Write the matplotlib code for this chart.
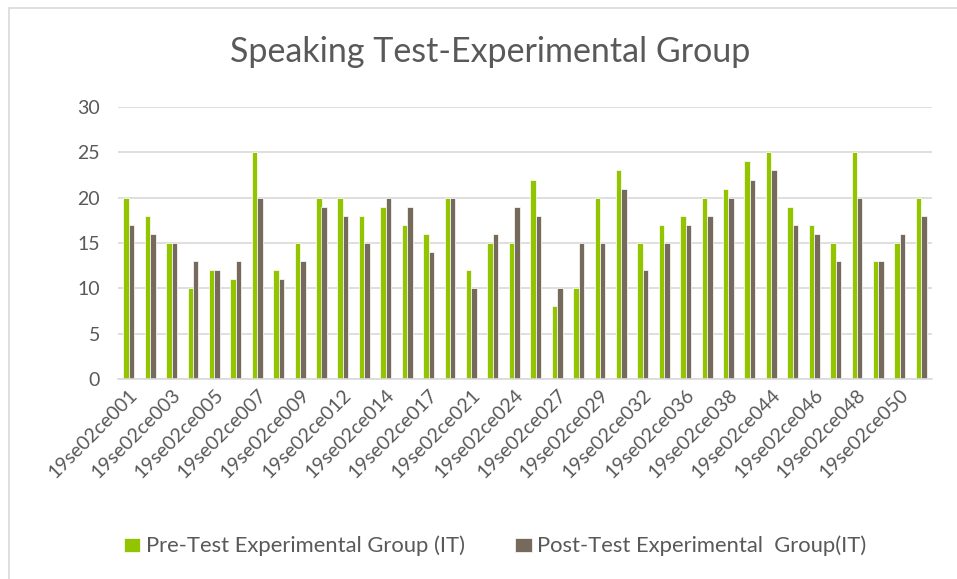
import numpy as np
import matplotlib.pyplot as plt
from matplotlib.patches import Rectangle

plt.rcParams['font.family'] = ['Lato', 'DejaVu Sans']

# student ids (only every other one is printed on the axis)
students = ['19se02ce001', '19se02ce002', '19se02ce003', '19se02ce004', '19se02ce005',
            '19se02ce006', '19se02ce007', '19se02ce008', '19se02ce009', '19se02ce010',
            '19se02ce012', '19se02ce013', '19se02ce014', '19se02ce015', '19se02ce017',
            '19se02ce018', '19se02ce021', '19se02ce022', '19se02ce024', '19se02ce025',
            '19se02ce027', '19se02ce028', '19se02ce029', '19se02ce030', '19se02ce032',
            '19se02ce033', '19se02ce036', '19se02ce037', '19se02ce038', '19se02ce039',
            '19se02ce044', '19se02ce045', '19se02ce046', '19se02ce047', '19se02ce048',
            '19se02ce049', '19se02ce050', '19se02ce051']

pre_test = [20, 18, 15, 10, 12, 11, 25, 12, 15, 20, 20, 18, 19, 17, 16, 20, 12, 15, 15,
            22, 8, 10, 20, 23, 15, 17, 18, 20, 21, 24, 25, 19, 17, 15, 25, 13, 15, 20]
post_test = [17, 16, 15, 13, 12, 13, 20, 11, 13, 19, 18, 15, 20, 19, 14, 20, 10, 16, 19,
             18, 10, 15, 15, 21, 12, 15, 17, 18, 20, 22, 23, 17, 16, 13, 20, 13, 16, 18]

green = '#92C400'
grey = '#756A5B'
text_col = '#595959'

fig = plt.figure(figsize=(9.57, 5.79), dpi=100)
ax = fig.add_axes([118 / 957, 1 - 379 / 579, (932 - 118) / 957, (379 - 107) / 579])

x = np.arange(len(students))
w = 0.255
ax.bar(x - w / 2, pre_test, w, color=green, edgecolor='white', linewidth=0.5,
       label='Pre-Test Experimental Group (IT)')
ax.bar(x + w / 2, post_test, w, color=grey, edgecolor='white', linewidth=0.5,
       label='Post-Test Experimental  Group(IT)')

ax.set_xlim(-0.5, len(students) - 0.5)
ax.set_ylim(0, 30)
ax.set_yticks(range(0, 31, 5))
ax.yaxis.grid(True, color='#D9D9D9', linewidth=1.2)
ax.set_axisbelow(True)
for s in ['top', 'right', 'left']:
    ax.spines[s].set_visible(False)
ax.spines['bottom'].set_color('#D9D9D9')
ax.spines['bottom'].set_linewidth(1.2)
ax.tick_params(axis='both', length=0, colors=text_col, labelsize=14)
ax.tick_params(axis='y', pad=13)
ax.tick_params(axis='x', pad=5)

ax.set_xticks(x[::2])
ax.set_xticklabels(students[::2], rotation=45, ha='right', rotation_mode='anchor')

fig.text(490 / 957, 1 - 52 / 579, 'Speaking Test-Experimental Group', ha='center',
         va='center', fontsize=24.5, color=text_col)

fig.legend(loc='center', bbox_to_anchor=(495 / 957, 1 - 546 / 579), ncol=2, frameon=False,
           fontsize=15.8, labelcolor=text_col, handlelength=0.75, handleheight=0.6,
           columnspacing=2.3, handletextpad=0.25)

fig.patches.append(Rectangle((9 / 957, -0.1), 1.2, 1 - 8 / 579 + 0.1,
                             transform=fig.transFigure, fill=False,
                             edgecolor='#D9D9D9', linewidth=1.2))

fig.savefig('out.png', dpi=100)
